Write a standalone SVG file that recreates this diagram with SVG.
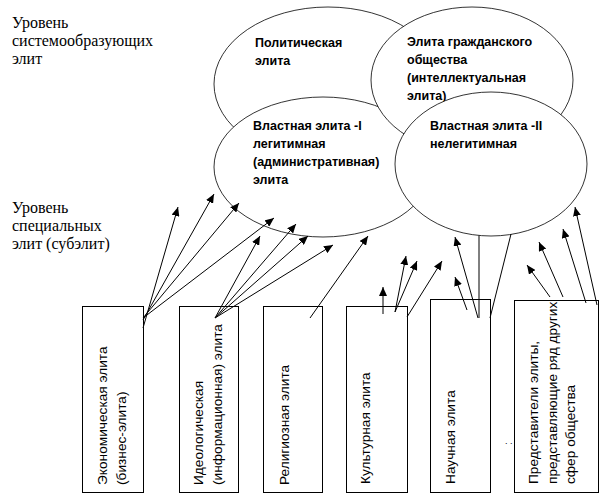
<svg xmlns="http://www.w3.org/2000/svg" width="616" height="500" viewBox="0 0 616 500">
<style>
.lvl{font-family:"Liberation Serif","Times New Roman",serif;font-size:16px;fill:#000}
.el{fill:#fff;stroke:#000;stroke-width:0.8}
.et{font-family:"Liberation Sans",Arial,sans-serif;font-size:12.5px;font-weight:bold;fill:#000}
.bx{fill:#fff;stroke:#000;stroke-width:1}
.bt{font-family:"Liberation Sans",Arial,sans-serif;font-size:13.7px;fill:#000}
.cn line{stroke:#000;stroke-width:1;fill:none}
.ar{marker-end:url(#ah)}
</style>
<defs>
<marker id="ah" markerUnits="userSpaceOnUse" markerWidth="9" markerHeight="8" refX="9" refY="4" orient="auto">
<path d="M0,0 L9,4 L0,8 z" fill="#000"/>
</marker>
</defs>
<rect width="616" height="500" fill="#fff"/>
<g id="level-system">
<text class="lvl" x="12" y="28">Уровень</text>
<text class="lvl" x="12" y="46">системообразующих</text>
<text class="lvl" x="12" y="64">элит</text>
</g>
<g id="level-special">
<text class="lvl" x="12" y="213">Уровень</text>
<text class="lvl" x="12" y="231">специальных</text>
<text class="lvl" x="12" y="249">элит (субэлит)</text>
</g>
<g id="political">
<ellipse class="el" cx="328" cy="84" rx="114" ry="77"/>
<text class="et" x="255" y="47">Политическая</text>
<text class="et" x="255" y="65">элита</text>
</g>
<g id="power1">
<ellipse class="el" cx="323" cy="167" rx="109" ry="70"/>
<text class="et" x="253" y="130">Властная элита -I</text>
<text class="et" x="253" y="148">легитимная</text>
<text class="et" x="253" y="166">(административная)</text>
<text class="et" x="253" y="184">элита</text>
</g>
<g id="civil">
<ellipse class="el" cx="472" cy="80" rx="101" ry="73"/>
<text class="et" x="407" y="46">Элита гражданского</text>
<text class="et" x="407" y="64">общества</text>
<text class="et" x="407" y="82">(интеллектуальная</text>
<text class="et" x="407" y="100">элита)</text>
</g>
<g id="power2">
<ellipse class="el" cx="491" cy="164" rx="96" ry="72"/>
<text class="et" x="430" y="130">Властная элита -II</text>
<text class="et" x="430" y="148">нелегитимная</text>
</g>
<g id="economic">
<rect class="bx" x="82.5" y="306.5" width="61" height="186"/>
<text class="bt" transform="translate(107,485) rotate(-90)">Экономическая элита</text>
<text class="bt" transform="translate(126,485) rotate(-90)">(бизнес-элита)</text>
</g>
<g id="ideological">
<rect class="bx" x="179.5" y="306.5" width="59" height="186"/>
<text class="bt" transform="translate(203,485) rotate(-90)">Идеологическая</text>
<text class="bt" transform="translate(222,485) rotate(-90)">(информационная) элита</text>
</g>
<g id="religious">
<rect class="bx" x="263.5" y="306.5" width="59" height="186"/>
<text class="bt" transform="translate(289,485) rotate(-90)">Религиозная элита</text>
</g>
<g id="cultural">
<rect class="bx" x="346.5" y="306.5" width="61" height="186"/>
<text class="bt" transform="translate(370,484) rotate(-90)">Культурная элита</text>
</g>
<g id="science">
<rect class="bx" x="430.5" y="299.5" width="60" height="193"/>
<text class="bt" transform="translate(455,484) rotate(-90)">Научная элита</text>
</g>
<g id="others">
<rect class="bx" x="514.5" y="300.5" width="84" height="192"/>
<text class="bt" transform="translate(538,484) rotate(-90)">Представители элиты,</text>
<text class="bt" transform="translate(557,484) rotate(-90)">представляющие ряд других</text>
<text class="bt" transform="translate(575,484) rotate(-90)">сфер общества</text>
<text class="bt" x="505" y="444" style="font-size:9px">. .</text>
</g>
<g id="connectors" class="cn">
<line class="ar" x1="143" y1="328" x2="178" y2="207"/>
<line class="ar" x1="143" y1="320" x2="214" y2="194"/>
<line class="ar" x1="143" y1="318" x2="239" y2="203"/>
<line class="ar" x1="143" y1="318" x2="274" y2="218"/>
<line class="ar" x1="215" y1="318" x2="260" y2="236"/>
<line class="ar" x1="215" y1="318" x2="296" y2="224"/>
<line class="ar" x1="215" y1="318" x2="308" y2="236"/>
<line class="ar" x1="215" y1="318" x2="333" y2="245"/>
<line class="ar" x1="310" y1="318" x2="368" y2="236"/>
<line class="ar" x1="383" y1="314" x2="383" y2="287"/>
<line class="ar" x1="395" y1="312" x2="406" y2="256"/>
<line class="ar" x1="395" y1="312" x2="417" y2="261"/>
<line class="ar" x1="407" y1="317" x2="442" y2="261"/>
<line class="ar" x1="467" y1="310" x2="455" y2="277"/>
<line class="ar" x1="478" y1="318" x2="455" y2="237"/>
<line x1="479" y1="235.5" x2="479" y2="318"/>
<line x1="511" y1="234" x2="490" y2="318"/>
<line class="ar" x1="550" y1="297" x2="527" y2="265"/>
<line class="ar" x1="563" y1="297" x2="539" y2="242"/>
<line class="ar" x1="586" y1="303" x2="563" y2="229"/>
<line class="ar" x1="597" y1="305" x2="575" y2="207"/>
</g>
</svg>
